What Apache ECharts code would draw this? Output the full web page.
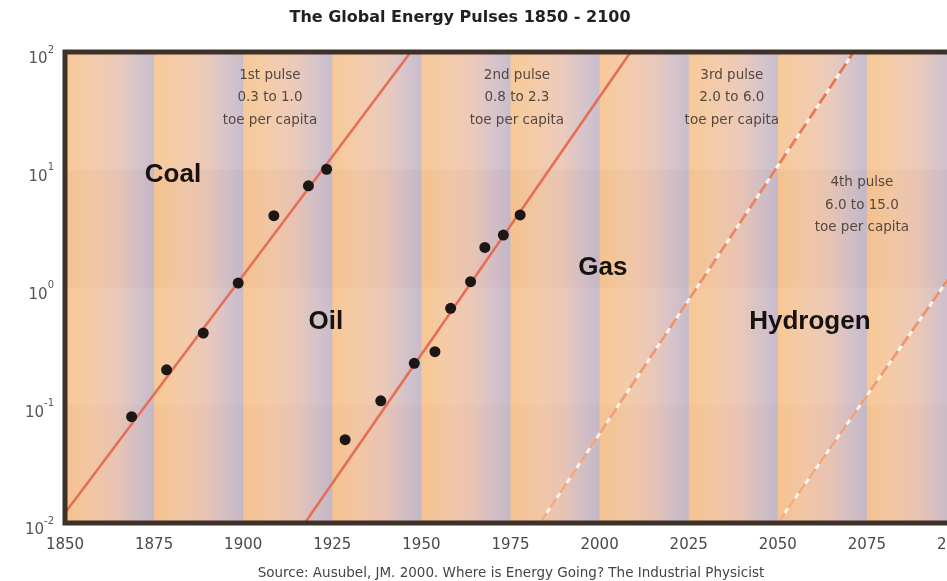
<!DOCTYPE html>
<html>
<head>
<meta charset="utf-8">
<script src="https://cdn.jsdelivr.net/npm/echarts@6/dist/echarts.min.js"></script>
<style>
  html, body { margin: 0; padding: 0; background: #ffffff; }
  #chart { width: 947px; height: 581px; }
</style>
</head>
<body>
<div id="chart"></div>
<script>
// ---------- data ----------
const xTickYears = [1850, 1875, 1900, 1925, 1950, 1975, 2000, 2025, 2050, 2075, 2100];
const yTickValues = [0.01, 0.1, 1, 10, 100];

const coalYears  = [1868.7, 1878.5, 1888.8, 1898.6, 1908.6, 1918.3, 1923.4];
const coalValues = [0.080, 0.20, 0.41, 1.09, 4.07, 7.3, 10.1];

const oilYears  = [1928.6, 1938.6, 1948.0, 1953.8, 1958.2, 1963.8, 1967.8, 1973.0, 1977.7];
const oilValues = [0.051, 0.109, 0.227, 0.285, 0.665, 1.12, 2.19, 2.79, 4.13];

const pulseStartYears = [1847.9, 1917.3, 1983.3, 2050.0];
const pulseEndYears   = [1947.0, 2008.7, 2071.3, 2142.4];
const pulseStartValue = 0.01;
const pulseEndValue   = 100;

const pulseNames  = ['1st pulse', '2nd pulse', '3rd pulse', '4th pulse'];
const pulseRanges = ['0.3 to 1.0', '0.8 to 2.3', '2.0 to 6.0', '6.0 to 15.0'];
const pulseLabelYears  = [1907.5, 1976.8, 2037.1, 2073.6];
const pulseLabelValues = [40.7, 40.7, 40.7, 5.0];

const fuelNames = ['Coal', 'Oil', 'Gas', 'Hydrogen'];
const fuelLabelYears  = [1880.3, 1923.2, 2000.9, 2059.0];
const fuelLabelValues = [9.0, 0.51, 1.47, 0.51];

const titleText  = 'The Global Energy Pulses 1850 - 2100';
const sourceText = 'Source: Ausubel, JM. 2000. Where is Energy Going? The Industrial Physicist';

// ---------- styles ----------
const bandGradient = () => new echarts.graphic.LinearGradient(0, 0, 1, 0, [
  { offset: 0.00, color: '#f8c590' },
  { offset: 0.30, color: '#f4c9a6' },
  { offset: 0.58, color: '#eac6b6' },
  { offset: 0.82, color: '#d3c0c8' },
  { offset: 1.00, color: '#c4b9ca' }
]);
const dashGradient = () => new echarts.graphic.LinearGradient(0, 0, 0, 1, [
  { offset: 0, color: '#e2714f' },
  { offset: 1, color: '#f2b088' }
]);

const seamOverlap = 0.3; // years of overlap so adjacent bands leave no gap
const bandAreas = [];
for (let i = 0; i < xTickYears.length - 1; i++) {
  bandAreas.push([
    { xAxis: xTickYears[i], yAxis: yTickValues[0], itemStyle: { color: bandGradient() } },
    { xAxis: xTickYears[i + 1] + seamOverlap, yAxis: yTickValues[yTickValues.length - 1] }
  ]);
}
const rowTints = ['rgba(255,255,255,0.07)', 'rgba(120,95,80,0.025)', 'rgba(255,255,255,0.04)', 'rgba(120,95,80,0.015)'];
const rowAreas = [];
for (let i = 0; i < yTickValues.length - 1; i++) {
  const hi = yTickValues[yTickValues.length - 1 - i];
  const lo = yTickValues[yTickValues.length - 2 - i];
  rowAreas.push([
    { xAxis: xTickYears[0], yAxis: lo, itemStyle: { color: rowTints[i] } },
    { xAxis: xTickYears[xTickYears.length - 1], yAxis: hi }
  ]);
}

const series = [];
series.push({
  type: 'line', data: [], silent: true, z: 0,
  markArea: { silent: true, data: bandAreas, itemStyle: { borderWidth: 0 } }
});
series.push({
  type: 'line', data: [], silent: true, z: 0,
  markArea: { silent: true, data: rowAreas, itemStyle: { borderWidth: 0 } }
});

for (let i = 0; i < pulseStartYears.length; i++) {
  const pts = [[pulseStartYears[i], pulseStartValue], [pulseEndYears[i], pulseEndValue]];
  if (i < 2) {
    series.push({
      type: 'line', data: pts, symbol: 'none', silent: true, z: 3,
      lineStyle: { color: '#e46f56', width: 2.6 }
    });
  } else {
    series.push({
      type: 'line', data: pts, symbol: 'none', silent: true, z: 3,
      lineStyle: { color: 'rgba(255,250,245,0.9)', width: 3 }
    });
    series.push({
      type: 'line', data: pts, symbol: 'none', silent: true, z: 4,
      lineStyle: { color: dashGradient(), width: 3, type: [12, 6] }
    });
  }
}

const dotStyle = { color: '#1c1714', opacity: 1 };
series.push({
  type: 'scatter', z: 6, symbolSize: 11, itemStyle: dotStyle,
  data: coalYears.map((y, i) => [y, coalValues[i]])
});
series.push({
  type: 'scatter', z: 6, symbolSize: 11, itemStyle: dotStyle,
  data: oilYears.map((y, i) => [y, oilValues[i]])
});

series.push({
  type: 'scatter', z: 7, symbolSize: 0, silent: true,
  itemStyle: { opacity: 1 },
  data: fuelNames.map((n, i) => ({ value: [fuelLabelYears[i], fuelLabelValues[i]], name: n })),
  label: {
    show: true, position: 'inside', formatter: p => p.name, opacity: 1,
    fontFamily: 'Liberation Sans', fontWeight: 'bold', fontSize: 26, color: '#16120f'
  }
});
series.push({
  type: 'scatter', z: 7, symbolSize: 0, silent: true,
  itemStyle: { opacity: 1 },
  data: pulseNames.map((n, i) => ({ value: [pulseLabelYears[i], pulseLabelValues[i]], name: n + '\n' + pulseRanges[i] + '\ntoe per capita' })),
  label: {
    show: true, position: 'inside', formatter: p => p.name, opacity: 1,
    fontFamily: 'DejaVu Sans', fontSize: 13.5, lineHeight: 22.5, color: '#55483f', align: 'center'
  }
});

const option = {
  backgroundColor: '#ffffff',
  animation: false,
  title: [
    { text: titleText, left: 455, top: 5, textAlign: 'center',
      textStyle: { fontFamily: 'DejaVu Sans', fontWeight: 'bold', fontSize: 16, color: '#222' } },
    { text: sourceText, left: 506, top: 561, textAlign: 'center',
      textStyle: { fontFamily: 'DejaVu Sans', fontWeight: 'normal', fontSize: 13.5, color: '#444' } }
  ],
  grid: {
    left: 65, top: 52, right: -9, bottom: 58,
    outerBoundsMode: 'none', containLabel: false,
    show: true, z: 10, backgroundColor: 'transparent',
    borderColor: '#3d3129', borderWidth: 5
  },
  xAxis: {
    type: 'value', min: 1850, max: 2100, interval: 25,
    axisLine: { show: false }, axisTick: { show: false }, splitLine: { show: false },
    axisLabel: { margin: 15, fontFamily: 'DejaVu Sans', fontSize: 15, color: '#4a4a4a',
      formatter: v => String(v) }
  },
  yAxis: {
    type: 'log', logBase: 10, min: 0.01, max: 100,
    axisLine: { show: false }, axisTick: { show: false }, splitLine: { show: false },
    axisLabel: {
      margin: 11,
      padding: [8, 0, 0, 0],
      formatter: v => '{b|10}{s|' + Math.round(Math.log10(v)) + '}',
      rich: {
        b: { fontFamily: 'DejaVu Sans', fontSize: 15, color: '#555', verticalAlign: 'bottom', lineHeight: 22 },
        s: { fontFamily: 'DejaVu Sans', fontSize: 10, color: '#555', verticalAlign: 'top', lineHeight: 22 }
      }
    }
  },
  series: series
};

const chart = echarts.init(document.getElementById('chart'), null, { renderer: 'canvas' });
chart.setOption(option);
</script>
</body>
</html>
